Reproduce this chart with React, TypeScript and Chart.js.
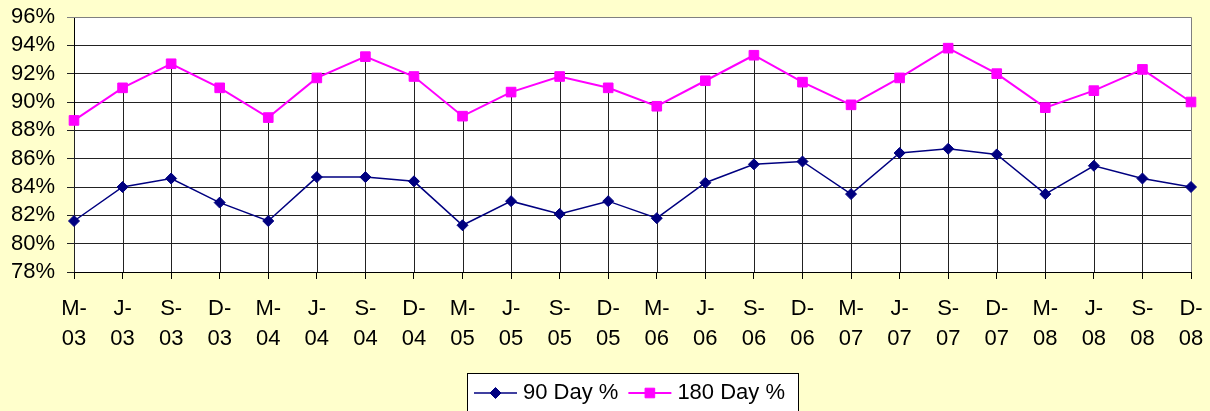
import React, { useEffect, useRef } from "react";
import { Chart, registerables } from "chart.js";

Chart.register(...registerables);

const categories = [
  "M-03", "J-03", "S-03", "D-03",
  "M-04", "J-04", "S-04", "D-04",
  "M-05", "J-05", "S-05", "D-05",
  "M-06", "J-06", "S-06", "D-06",
  "M-07", "J-07", "S-07", "D-07",
  "M-08", "J-08", "S-08", "D-08",
];

const day90 = [
  81.6, 84.0, 84.6, 82.9,
  81.6, 84.7, 84.7, 84.4,
  81.3, 83.0, 82.1, 83.0,
  81.8, 84.3, 85.6, 85.8,
  83.5, 86.4, 86.7, 86.3,
  83.5, 85.5, 84.6, 84.0,
];

const day180 = [
  88.7, 91.0, 92.7, 91.0,
  88.9, 91.7, 93.2, 91.8,
  89.0, 90.7, 91.8, 91.0,
  89.7, 91.5, 93.3, 91.4,
  89.8, 91.7, 93.8, 92.0,
  89.6, 90.8, 92.3, 90.0,
];

const yMin = 78;
const yMax = 96;
const yStep = 2;

const FONT = "'Liberation Sans', Arial, sans-serif";

const backgroundPlugin = {
  id: "bgPlugin",
  beforeDraw(chart: any) {
    const { ctx, chartArea } = chart;
    ctx.save();
    ctx.fillStyle = "#FFFFCC";
    ctx.fillRect(0, 0, chart.width, chart.height);
    ctx.fillStyle = "#FFFFFF";
    ctx.fillRect(chartArea.left, chartArea.top, chartArea.right - chartArea.left, chartArea.bottom - chartArea.top);
    ctx.restore();
  },
};

const dropLinePlugin = {
  id: "dropLines",
  beforeDatasetsDraw(chart: any) {
    const { ctx, chartArea } = chart;
    const m0 = chart.getDatasetMeta(0).data;
    const m1 = chart.getDatasetMeta(1).data;
    ctx.save();
    ctx.strokeStyle = "#222222";
    ctx.lineWidth = 1;
    for (let i = 0; i < m1.length; i++) {
      const x = Math.round(m1[i].x) + 0.5;
      const yTop = Math.min(m1[i].y, m0[i] ? m0[i].y : m1[i].y);
      ctx.beginPath();
      ctx.moveTo(x, yTop);
      ctx.lineTo(x, chartArea.bottom);
      ctx.stroke();
    }
    ctx.strokeStyle = "#808080";
    ctx.beginPath();
    ctx.moveTo(chartArea.left, Math.round(chartArea.top) + 0.5);
    ctx.lineTo(Math.round(chartArea.right) + 0.5, Math.round(chartArea.top) + 0.5);
    ctx.lineTo(Math.round(chartArea.right) + 0.5, chartArea.bottom);
    ctx.stroke();
    ctx.restore();
  },
};

const legendPlugin = {
  id: "boxLegend",
  afterDraw(chart: any) {
    const { ctx } = chart;
    const boxLeft = 467;
    const boxTop = 373;
    const boxRight = 798;
    const cy = 393;
    ctx.save();
    ctx.fillStyle = "#FFFFFF";
    ctx.fillRect(boxLeft, boxTop, boxRight - boxLeft, chart.height - boxTop + 10);
    ctx.strokeStyle = "#000000";
    ctx.lineWidth = 1;
    ctx.strokeRect(boxLeft + 0.5, boxTop + 0.5, boxRight - boxLeft, chart.height - boxTop + 10);
    ctx.font = `22px ${FONT}`;
    ctx.textBaseline = "middle";
    ctx.textAlign = "left";
    let x = boxLeft + 7;
    chart.data.datasets.forEach((ds: any) => {
      const lineW = 43;
      ctx.strokeStyle = ds.borderColor;
      ctx.lineWidth = ds.borderWidth;
      ctx.beginPath();
      ctx.moveTo(x, cy);
      ctx.lineTo(x + lineW, cy);
      ctx.stroke();
      ctx.fillStyle = ds.pointBackgroundColor;
      ctx.strokeStyle = ds.pointBorderColor;
      ctx.lineWidth = 1;
      const mx = x + lineW / 2;
      ctx.beginPath();
      if (ds.pointStyle === "rectRot") {
        const r = ds.pointRadius;
        ctx.moveTo(mx - r, cy);
        ctx.lineTo(mx, cy - r);
        ctx.lineTo(mx + r, cy);
        ctx.lineTo(mx, cy + r);
        ctx.closePath();
      } else {
        const s = ds.pointRadius * Math.SQRT1_2;
        ctx.rect(mx - s, cy - s, 2 * s, 2 * s);
      }
      ctx.fill();
      ctx.stroke();
      ctx.fillStyle = "#000000";
      const tx = x + lineW + 6;
      ctx.fillText(ds.label, tx, cy);
      x = tx + ctx.measureText(ds.label).width + 10;
    });
    ctx.restore();
  },
};

export default function App() {
  const canvasRef = useRef<HTMLCanvasElement | null>(null);

  useEffect(() => {
    if (!canvasRef.current) return;
    const chart = new Chart(canvasRef.current, {
      type: "line",
      data: {
        labels: categories,
        datasets: [
          {
            label: "90 Day %",
            data: day90,
            borderColor: "#000080",
            backgroundColor: "#000080",
            pointBackgroundColor: "#000080",
            pointBorderColor: "#000080",
            borderWidth: 1.5,
            pointStyle: "rectRot",
            pointRadius: 5.5,
            pointBorderWidth: 1,
            tension: 0,
            fill: false,
          },
          {
            label: "180 Day %",
            data: day180,
            borderColor: "#FF00FF",
            backgroundColor: "#FF00FF",
            pointBackgroundColor: "#FF00FF",
            pointBorderColor: "#FF00FF",
            borderWidth: 2,
            pointStyle: "rect",
            pointRadius: 6.8,
            pointBorderWidth: 1,
            tension: 0,
            fill: false,
          },
        ],
      },
      options: {
        animation: false,
        responsive: false,
        maintainAspectRatio: false,
        layout: { padding: { top: 17, right: 19, left: 0, bottom: 0 } },
        plugins: {
          legend: { display: false },
          tooltip: { enabled: false },
          title: { display: false },
        },
        scales: {
          x: {
            type: "category",
            offset: false,
            afterFit: (s: any) => {
              s.height = 139;
              s.paddingLeft = 0;
              s.paddingRight = 0;
            },
            grid: {
              drawOnChartArea: false,
              drawTicks: true,
              tickLength: 7,
              color: "#000000",
            },
            border: { color: "#000000", width: 1 },
            ticks: {
              autoSkip: false,
              maxRotation: 0,
              minRotation: 0,
              padding: 15,
              color: "#000000",
              font: { family: FONT, size: 22, lineHeight: 1.364 },
              callback: (_v: any, i: number) => {
                const s = categories[i];
                return [s.slice(0, 2), s.slice(2)];
              },
            },
          },
          y: {
            min: yMin,
            max: yMax,
            afterFit: (s: any) => {
              s.width = 74;
              s.paddingTop = 0;
              s.paddingBottom = 0;
            },
            grid: {
              drawTicks: true,
              tickLength: 7,
              color: (c: any) => (c.tick && c.tick.value === yMax ? "#808080" : "#222222"),
            },
            border: { color: "#000000", width: 1 },
            ticks: {
              autoSkip: false,
              stepSize: yStep,
              padding: 12,
              color: "#000000",
              font: { family: FONT, size: 22 },
              callback: (v: any) => `${v}%`,
            },
          },
        },
      },
      plugins: [backgroundPlugin, dropLinePlugin, legendPlugin],
    });
    return () => chart.destroy();
  }, []);

  return (
    <div style={{ position: "absolute", left: 0, top: 0, width: 1210, height: 411, background: "#FFFFCC" }}>
      <canvas ref={canvasRef} width={1210} height={411} style={{ display: "block" }} />
    </div>
  );
}
